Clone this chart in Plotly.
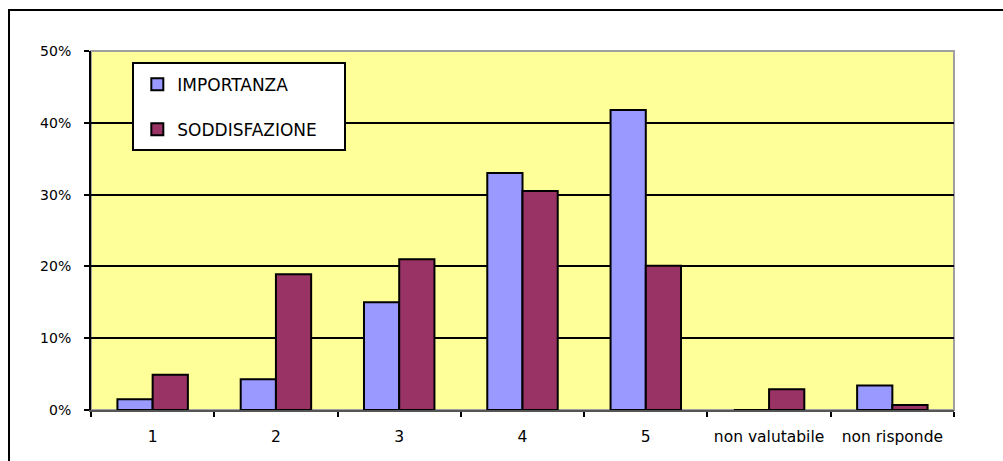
import plotly.graph_objects as go

# Survey results: share of answers per score
categories = ["1", "2", "3", "4", "5", "non valutabile", "non risponde"]
importanza = [1.5, 4.3, 15.0, 33.0, 41.8, 0.0, 3.4]
soddisfazione = [4.9, 18.9, 21.0, 30.5, 20.1, 2.9, 0.7]
y_ticks = [0, 10, 20, 30, 40, 50]

W, H = 1003, 461
ML, MR, MT, MB = 91, 49, 51, 51
PW, PH = W - ML - MR, H - MT - MB


def px_x(px):
    return (px - ML) / PW


def px_y(py):
    return (H - MB - py) / PH


FONT = "DejaVu Sans"

fig = go.Figure()
fig.add_trace(go.Bar(
    name="IMPORTANZA", x=categories, y=importanza,
    marker=dict(color="#9999FF", line=dict(color="black", width=2)),
    legendgroup="a",
))
fig.add_trace(go.Bar(
    name="SODDISFAZIONE", x=categories, y=soddisfazione,
    marker=dict(color="#993366", line=dict(color="black", width=2)),
    legendgroup="b",
))

shapes = [
    # outer chart frame
    dict(type="rect", xref="paper", yref="paper",
         x0=px_x(9), x1=px_x(1100), y0=px_y(10), y1=px_y(520),
         line=dict(color="black", width=2), fillcolor="rgba(0,0,0,0)", layer="below"),
    # plot area frame
    dict(type="rect", xref="paper", yref="paper", x0=0, x1=1, y0=0, y1=1,
         line=dict(color="#A0A0A0", width=2), fillcolor="rgba(0,0,0,0)", layer="below"),
    # legend box
    dict(type="rect", xref="paper", yref="paper",
         x0=px_x(133), x1=px_x(345), y0=px_y(150), y1=px_y(63),
         line=dict(color="black", width=2), fillcolor="white", layer="above"),
]

fig.update_layout(
    width=W, height=H,
    margin=dict(l=ML, r=MR, t=MT, b=MB, autoexpand=False),
    paper_bgcolor="white",
    plot_bgcolor="#FFFF99",
    barmode="group",
    bargap=1.5 / 3.5,
    bargroupgap=0,
    font=dict(family=FONT, color="black"),
    shapes=shapes,
    showlegend=True,
    legend=dict(
        x=px_x(133) + 0.005, y=px_y(63) - 0.01, xanchor="left", yanchor="top",
        bgcolor="rgba(0,0,0,0)", borderwidth=0,
        font=dict(family=FONT, size=17, color="black"),
        traceorder="grouped", tracegroupgap=20,
        itemclick=False,
    ),
)

fig.update_xaxes(
    type="category",
    tickson="boundaries",
    tickangle=0,
    ticks="outside", ticklen=5, tickwidth=1.5, tickcolor="black",
    showline=True, linecolor="#555555", linewidth=1.5,
    showgrid=False,
    tickfont=dict(family=FONT, size=15.5, color="black"),
    ticklabelstandoff=12,
)
fig.update_yaxes(
    range=[0, 50],
    tickvals=y_ticks,
    ticktext=[f"{v}%" for v in y_ticks],
    ticks="outside", ticklen=5, tickwidth=1.5, tickcolor="black",
    showline=True, linecolor="black", linewidth=2,
    showgrid=True, gridcolor="black", gridwidth=2,
    zeroline=False,
    tickfont=dict(family=FONT, size=14, color="black"),
    ticklabelstandoff=10,
)

fig.write_html("out.html")
